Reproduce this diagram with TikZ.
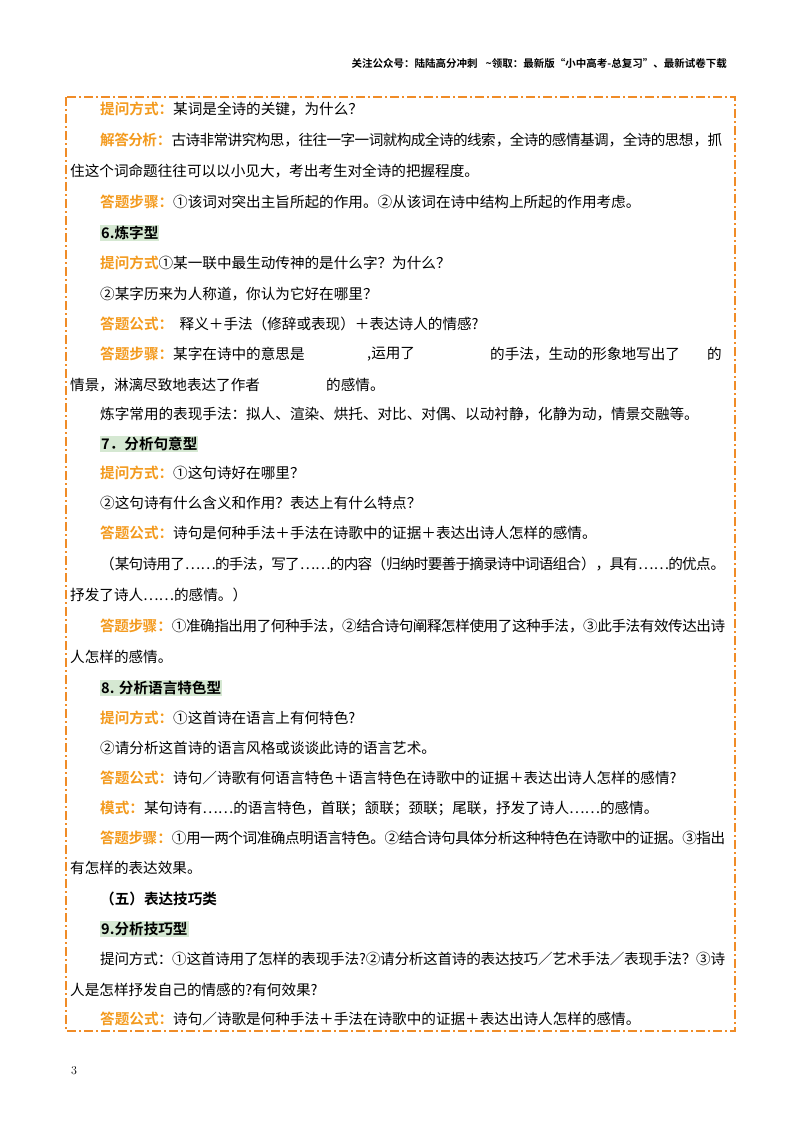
\documentclass[tikz,border=0pt]{standalone}
\usepackage{fontspec}
\setmainfont{Noto Sans CJK SC}[BoldFont={Noto Sans CJK SC Bold}]
\XeTeXlinebreaklocale "zh"
\XeTeXlinebreakskip=0pt plus 2pt minus 1pt
\definecolor{org}{HTML}{F39A1E}
\definecolor{bord}{HTML}{F08C28}
\definecolor{hl}{HTML}{D5E8D2}
\newcommand{\lab}[1]{{\bfseries\color{org}#1}}
\tikzset{ln/.style={anchor=west,inner sep=0pt,font=\fontsize{14.6}{16}\selectfont},
  hd/.style={anchor=west,inner sep=1pt,fill=hl,font=\fontsize{14.6}{16}\selectfont\bfseries},
  full/.style={anchor=west,inner sep=0pt,font=\fontsize{14.6}{16}\selectfont,align=justify}}
\newcommand{\fl}[4]{\node[full,text width=#3] (#4) at (#1) {\parfillskip=0pt\relax #2\par};}
\begin{document}
\begin{tikzpicture}[x=1pt,y=-1pt]
\useasboundingbox (0,0) rectangle (800,1132);
\node[anchor=east,inner sep=0pt,font=\fontsize{10.5}{12}\selectfont\bfseries] (hdr) at (727,64) {关注公众号：陆陆高分冲刺\hspace{8pt}\textasciitilde 领取：最新版“小中高考-总复习”、最新试卷下载};
\draw[bord,line width=1.5pt,dash pattern=on 9pt off 3pt on 2pt off 3pt] (66,97) rectangle (735,1031);
\node[ln] (l1) at (100,109) {\lab{提问方式：}某词是全诗的关键，为什么？};
\fl{100,140}{\lab{解答分析：}古诗非常讲究构思，往往一字一词就构成全诗的线索，全诗的感情基调，全诗的思想，抓}{622}{l2}
\node[ln] (l3) at (70,171) {住这个词命题往往可以以小见大，考出考生对全诗的把握程度。};
\node[ln] (l4) at (100,202) {\lab{答题步骤：}①该词对突出主旨所起的作用。②从该词在诗中结构上所起的作用考虑。};
\node[hd] (h6) at (100,233) {6.炼字型};
\node[ln] (l6) at (100,263) {\lab{提问方式}①某一联中最生动传神的是什么字？为什么？};
\node[ln] (l7) at (100,294) {②某字历来为人称道，你认为它好在哪里？};
\node[ln] (l8) at (100,324) {\lab{答题公式：}\ \ 释义＋手法（修辞或表现）＋表达诗人的情感?};
\node[ln] (l9) at (100,354) {\lab{答题步骤：}某字在诗中的意思是};
\node[ln] (l9b) at (367,354) {,运用了};
\node[ln] (l9c) at (490,354) {的手法，生动的形象地写出了};
\node[ln] (l9d) at (707,354) {的};
\node[ln] (l10) at (70,385) {情景，淋漓尽致地表达了作者};
\node[ln] (l10b) at (326,385) {的感情。};
\node[ln] (l11) at (100,414) {炼字常用的表现手法：拟人、渲染、烘托、对比、对偶、以动衬静，化静为动，情景交融等。};
\node[hd] (h7) at (100,444) {7．分析句意型};
\node[ln] (l13) at (100,473) {\lab{提问方式：}①这句诗好在哪里？};
\node[ln] (l14) at (100,503) {②这句诗有什么含义和作用？表达上有什么特点？};
\node[ln] (l15) at (100,533) {\lab{答题公式：}诗句是何种手法＋手法在诗歌中的证据＋表达出诗人怎样的感情。};
\fl{100,564}{（某句诗用了……的手法，写了……的内容（归纳时要善于摘录诗中词语组合），具有……的优点。}{625}{l16}
\node[ln] (l17) at (70,595) {抒发了诗人……的感情。）};
\fl{100,626}{\lab{答题步骤：}①准确指出用了何种手法，②结合诗句阐释怎样使用了这种手法，③此手法有效传达出诗}{625}{l18}
\node[ln] (l19) at (70,657) {人怎样的感情。};
\node[hd] (h8) at (100,688) {8. 分析语言特色型};
\node[ln] (l21) at (100,718) {\lab{提问方式：}①这首诗在语言上有何特色?};
\node[ln] (l22) at (100,748) {②请分析这首诗的语言风格或谈谈此诗的语言艺术。};
\node[ln] (l23) at (100,778) {\lab{答题公式：}诗句／诗歌有何语言特色＋语言特色在诗歌中的证据＋表达出诗人怎样的感情?};
\node[ln] (l24) at (100,808) {\lab{模式：}某句诗有……的语言特色，首联；颔联；颈联；尾联，抒发了诗人……的感情。};
\fl{100,838}{\lab{答题步骤：}①用一两个词准确点明语言特色。②结合诗句具体分析这种特色在诗歌中的证据。③指出}{625}{l25}
\node[ln] (l26) at (70,868) {有怎样的表达效果。};
\node[ln,font=\fontsize{14.6}{16}\selectfont\bfseries] (l27) at (100,899) {（五）表达技巧类};
\node[hd] (h9) at (100,929) {9.分析技巧型};
\fl{100,959}{提问方式：①这首诗用了怎样的表现手法?②请分析这首诗的表达技巧／艺术手法／表现手法？③诗}{625}{l29}
\node[ln] (l30) at (70,990) {人是怎样抒发自己的情感的?有何效果?};
\node[ln] (l31) at (100,1019) {\lab{答题公式：}诗句／诗歌是何种手法＋手法在诗歌中的证据＋表达出诗人怎样的感情。};
\node[anchor=west,inner sep=0pt,font=\fontspec{Latin Modern Roman}\fontsize{12}{14}\selectfont] (pg) at (71,1071) {3};
\end{tikzpicture}
\end{document}
